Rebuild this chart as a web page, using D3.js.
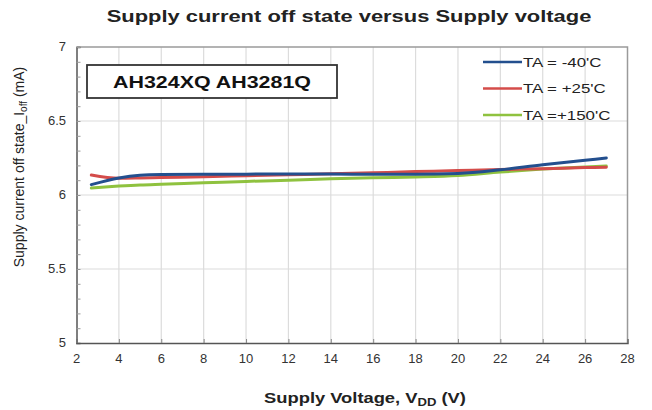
<!DOCTYPE html>
<html><head><meta charset="utf-8">
<script src="https://cdn.jsdelivr.net/npm/d3@7"></script>
<style>body{margin:0;background:#fff}svg{display:block}</style>
</head><body>
<svg id="c" width="652" height="410"></svg>
<script>
const voltages = [2.7, 4, 5, 6, 8, 10, 12, 14, 16, 18, 20, 22, 24, 26, 27];
const seriesNames = ["TA = -40'C", "TA = +25'C", "TA =+150'C"];
const currMinus40 = [6.07, 6.115, 6.133, 6.138, 6.14, 6.141, 6.142, 6.142, 6.14, 6.14, 6.145, 6.17, 6.205, 6.235, 6.25];
const curr25 = [6.135, 6.113, 6.115, 6.118, 6.123, 6.13, 6.137, 6.143, 6.15, 6.158, 6.165, 6.172, 6.178, 6.185, 6.188];
const curr150 = [6.047, 6.06, 6.068, 6.073, 6.082, 6.092, 6.1, 6.109, 6.116, 6.122, 6.132, 6.155, 6.175, 6.19, 6.196];
const xTicks = [2, 4, 6, 8, 10, 12, 14, 16, 18, 20, 22, 24, 26, 28];
const yTicks = [5, 5.5, 6, 6.5, 7];
const colors = ["#234f8e", "#d44c4a", "#8fc23f"];

const svg = d3.select("#c");
const L = 76.5, R = 627.5, T = 47, B = 343;
const x = d3.scaleLinear().domain([2, 28]).range([L, R]);
const y = d3.scaleLinear().domain([5, 7]).range([B, T]);
const font = "'Liberation Sans', Arial, sans-serif";

// horizontally stretched text helper (reference text is widened)
function wideText(px, py, sx, anchor) {
  return svg.append("g").attr("transform", `translate(${px},${py}) scale(${sx},1)`)
    .append("text").attr("x", 0).attr("y", 0).attr("text-anchor", anchor).attr("font-family", font);
}

// gridlines
svg.append("g").selectAll("line").data(xTicks.slice(1, -1)).join("line")
  .attr("x1", d => x(d)).attr("x2", d => x(d)).attr("y1", T).attr("y2", B)
  .attr("stroke", "#dcdcdc").attr("stroke-width", 1.2);
svg.append("g").selectAll("line").data(yTicks.slice(1, -1)).join("line")
  .attr("x1", L).attr("x2", R).attr("y1", d => y(d)).attr("y2", d => y(d))
  .attr("stroke", "#dcdcdc").attr("stroke-width", 1.2);

// top/right border
svg.append("path").attr("d", `M${L},${T}H${R}V${B}`).attr("fill", "none")
  .attr("stroke", "#9a9a9a").attr("stroke-width", 1.5);

// axes
const minorY = d3.range(5, 7.001, 0.1);
const ya = svg.append("g").attr("transform", `translate(${L},0)`)
  .call(d3.axisLeft(y).tickValues(minorY).tickSize(-4).tickFormat(""));
ya.select(".domain").attr("stroke", "#555").attr("stroke-width", 1.5);
ya.selectAll(".tick line").attr("stroke", "#999");
const xa = svg.append("g").attr("transform", `translate(0,${B})`)
  .call(d3.axisBottom(x).tickValues(xTicks).tickSize(-4).tickFormat(""));
xa.select(".domain").attr("stroke", "#555").attr("stroke-width", 1.5);
xa.selectAll(".tick line").attr("stroke", "#888");

// tick labels
svg.append("g").selectAll("text").data(xTicks).join("text")
  .attr("x", d => x(d)).attr("y", 363).attr("text-anchor", "middle")
  .attr("font-family", font).attr("font-size", 13).attr("fill", "#333").text(d => d);
svg.append("g").selectAll("text").data(yTicks).join("text")
  .attr("x", 66).attr("y", d => y(d) + 4).attr("text-anchor", "end")
  .attr("font-family", font).attr("font-size", 13).attr("fill", "#333").text(d => d);

// lines
const allSeries = [currMinus40, curr25, curr150];
const line = d3.line().x(d => x(d[0])).y(d => y(d[1])).curve(d3.curveMonotoneX);
[2, 1, 0].forEach(i => {
  svg.append("path").datum(voltages.map((v, j) => [v, allSeries[i][j]]))
    .attr("d", line).attr("fill", "none").attr("stroke", colors[i])
    .attr("stroke-width", 3).attr("stroke-linecap", "round");
});

// legend
seriesNames.forEach((n, i) => {
  const ly = 62 + i * 26.5;
  svg.append("line").attr("x1", 483).attr("x2", 522).attr("y1", ly).attr("y2", ly)
    .attr("stroke", colors[i]).attr("stroke-width", 2.5);
  wideText(523, ly + 4.5, 1.3, "start").attr("font-size", 13).attr("fill", "#222").text(n);
});

// part box
svg.append("rect").attr("x", 87).attr("y", 65).attr("width", 250).attr("height", 33)
  .attr("fill", "#fff").attr("stroke", "#333").attr("stroke-width", 1.8);
wideText(212, 88, 1.26, "middle").attr("font-weight", "bold").attr("font-size", 17)
  .attr("fill", "#111").text("AH324XQ AH3281Q");

// title
wideText(349, 22, 1.29, "middle").attr("font-weight", "bold").attr("font-size", 17)
  .attr("fill", "#222").text("Supply current off state versus Supply voltage");

// x label
const xl = wideText(365, 403, 1.31, "middle").attr("font-weight", "bold").attr("font-size", 14).attr("fill", "#222");
xl.append("tspan").text("Supply Voltage, V");
xl.append("tspan").attr("font-size", 10).attr("dy", 3).text("DD");
xl.append("tspan").attr("dy", -3).text(" (V)");

// y label
const yl = svg.append("text").attr("transform", "translate(24,167) rotate(-90)")
  .attr("text-anchor", "middle").attr("font-family", font).attr("font-size", 14).attr("fill", "#222");
yl.append("tspan").text("Supply  current off state_I");
yl.append("tspan").attr("font-size", 10).attr("dy", 3).text("off");
yl.append("tspan").attr("dy", -3).text(" (mA)");
</script>
</body></html>
